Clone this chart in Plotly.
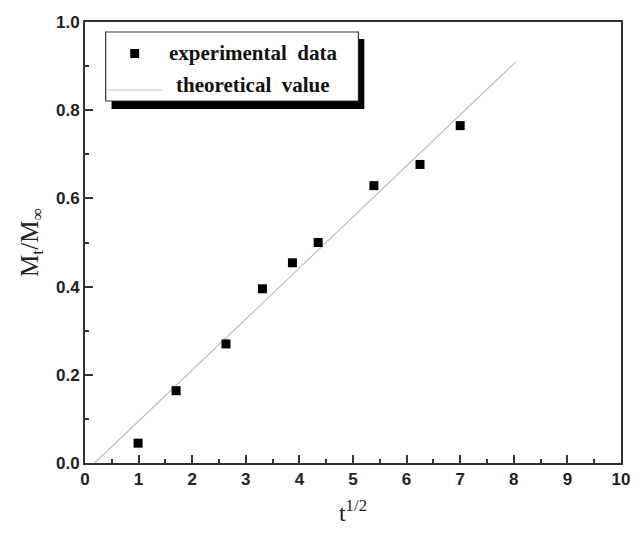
import plotly.graph_objects as go

# Experimental release data: square root of time vs. fractional uptake
t_sqrt = [0.99, 1.70, 2.63, 3.31, 3.87, 4.35, 5.39, 6.25, 7.00]
mt_minf = [0.045, 0.164, 0.270, 0.395, 0.454, 0.500, 0.629, 0.677, 0.765]

# Theoretical straight-line fit (end points)
fit_x = [0.18, 8.04]
fit_y = [0.0, 0.91]

legend_labels = ["experimental&nbsp; data", "theoretical&nbsp; value"]

W, H = 640, 538
ML, MR, MT, MB = 85, 10, 22, 75
PW, PH = W - ML - MR, H - MT - MB


def px(xp, yp):
    """Pixel position -> paper coordinates."""
    return (xp - ML) / PW, 1 - (yp - MT) / PH


fig = go.Figure()
fig.add_trace(go.Scatter(
    x=fit_x, y=fit_y, mode="lines",
    line=dict(color="#bdbdbd", width=1.2),
    showlegend=False, hoverinfo="skip"))
fig.add_trace(go.Scatter(
    x=t_sqrt, y=mt_minf, mode="markers",
    marker=dict(symbol="square", size=9, color="black"),
    showlegend=False))

axis_common = dict(
    showgrid=False, zeroline=False,
    showline=True, linecolor="#333333", linewidth=2, mirror=True,
    ticks="inside", ticklen=8, tickwidth=1.5, tickcolor="#333333",
    tickfont=dict(family="Liberation Sans, Arial", size=17, color="#222222", weight="bold"),
)

fig.update_xaxes(
    range=[0, 10], dtick=1, tick0=0,
    minor=dict(ticks="inside", ticklen=4, dtick=0.5, tickwidth=1.5, tickcolor="#333333"),
    title=dict(text="t<sup>1/2</sup>", font=dict(family="Liberation Serif, Times New Roman", size=24, color="#222"),
               standoff=16),
    **axis_common)
fig.update_yaxes(
    range=[0, 1.0], dtick=0.2, tick0=0, tickformat=".1f",
    minor=dict(ticks="inside", ticklen=4, dtick=0.1, tickwidth=1.5, tickcolor="#333333"),
    title=dict(text="M<sub>t</sub>/M<sub>∞</sub>", font=dict(family="Liberation Serif, Times New Roman", size=25, color="#222"),
               standoff=10),
    **axis_common)

# Legend box with drop shadow
shapes = []
x0, y0 = px(112, 39)
x1, y1 = px(369, 109)
shapes.append(dict(type="rect", xref="paper", yref="paper", x0=x0, y0=y0, x1=x1, y1=y1,
                   fillcolor="black", line=dict(width=0), layer="above"))
x0, y0 = px(106, 32)
x1, y1 = px(363, 101)
shapes.append(dict(type="rect", xref="paper", yref="paper", x0=x0, y0=y0, x1=x1, y1=y1,
                   fillcolor="white", line=dict(color="#333333", width=1.2), layer="above"))
# line sample
lx0, ly = px(108, 90)
lx1, _ = px(163, 90)
shapes.append(dict(type="line", xref="paper", yref="paper", x0=lx0, y0=ly, x1=lx1, y1=ly,
                   line=dict(color="#bdbdbd", width=1.2), layer="above"))
# marker sample
mx0, my0 = px(131, 49)
mx1, my1 = px(140, 58)
shapes.append(dict(type="rect", xref="paper", yref="paper", x0=mx0, y0=my0, x1=mx1, y1=my1,
                   fillcolor="black", line=dict(width=0), layer="above"))
fig.update_layout(shapes=shapes)

legend_font = dict(family="Liberation Serif, Times New Roman", size=21, color="#111", weight="bold")
for label, (xp, yp) in zip(legend_labels, [(168, 53), (175, 85)]):
    ax, ay = px(xp, yp)
    fig.add_annotation(x=ax, y=ay, xref="paper", yref="paper", text=label,
                       showarrow=False, xanchor="left", yanchor="middle", font=legend_font)

fig.update_layout(
    width=W, height=H,
    margin=dict(l=ML, r=MR, t=MT, b=MB),
    paper_bgcolor="white", plot_bgcolor="white",
    showlegend=False,
)

fig.write_html("out.html")
